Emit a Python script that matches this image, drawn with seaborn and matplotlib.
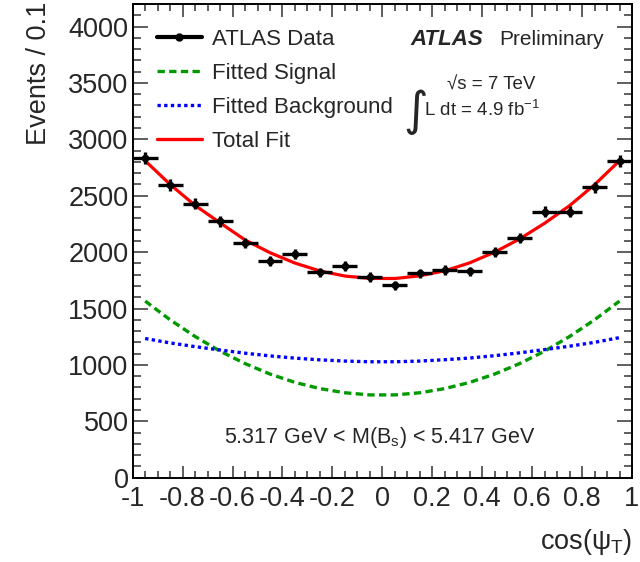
import matplotlib
matplotlib.use("Agg")
import matplotlib.pyplot as plt
from matplotlib.lines import Line2D
from matplotlib.ticker import MultipleLocator
import numpy as np
import pandas as pd
import seaborn as sns

# centros dos bins de cos(psi_T) (20 bins de largura 0.1)
cos_psi = [-0.95, -0.85, -0.75, -0.65, -0.55, -0.45, -0.35, -0.25, -0.15, -0.05,
           0.05, 0.15, 0.25, 0.35, 0.45, 0.55, 0.65, 0.75, 0.85, 0.95]
# eventos por bin (ATLAS Data)
events = [2835, 2596, 2428, 2274, 2083, 1918, 1986, 1820, 1880, 1779,
          1705, 1811, 1844, 1829, 2000, 2127, 2360, 2360, 2575, 2805]
signal = [1566, 1400, 1252, 1122, 1012, 919, 845, 790, 753, 734,
          734, 753, 790, 845, 919, 1012, 1122, 1252, 1400, 1566]
background = [1234, 1195, 1162, 1132, 1104, 1080, 1060, 1045, 1034, 1028,
              1028, 1034, 1046, 1061, 1082, 1107, 1136, 1166, 1200, 1242]
total_fit = [2810, 2600, 2414, 2260, 2108, 1995, 1903, 1833, 1788, 1767,
             1766, 1790, 1834, 1905, 2000, 2117, 2256, 2412, 2598, 2810]

xtick_pos = [-1, -0.8, -0.6, -0.4, -0.2, 0, 0.2, 0.4, 0.6, 0.8, 1]
xtick_labels = ['-1', '-0.8', '-0.6', '-0.4', '-0.2', '0', '0.2', '0.4', '0.6', '0.8', '1']
ytick_pos = [0, 500, 1000, 1500, 2000, 2500, 3000, 3500, 4000]
ytick_labels = ['0', '500', '1000', '1500', '2000', '2500', '3000', '3500', '4000']

df = pd.DataFrame({'x': cos_psi, 'events': events, 'signal': signal,
                   'background': background, 'total': total_fit})

sns.set_style('ticks')
plt.rcParams['font.family'] = ['Liberation Sans', 'DejaVu Sans']
plt.rcParams['axes.unicode_minus'] = False
plt.rcParams['mathtext.fontset'] = 'custom'
plt.rcParams['mathtext.rm'] = 'Liberation Sans'
plt.rcParams['mathtext.it'] = 'Liberation Sans'
plt.rcParams['mathtext.bf'] = 'Liberation Sans:bold'

fig = plt.figure(figsize=(6.4, 5.62), dpi=100)
ax = fig.add_axes([0.2073, 0.15, 0.7802, 0.8429])

GREEN = '#009a00'
BLUE = '#0000ff'
RED = '#ff0000'

# curvas do ajuste
sns.lineplot(data=df, x='x', y='signal', ax=ax, color=GREEN, lw=2.4,
             dashes=False, zorder=2)
ax.lines[-1].set_dashes([2.2, 1.3])
sns.lineplot(data=df, x='x', y='background', ax=ax, color=BLUE, lw=2.4,
             dashes=False, zorder=2)
ax.lines[-1].set_dashes([1.0, 1.0])
ax.lines[-1].set_dash_capstyle('butt')
sns.lineplot(data=df, x='x', y='total', ax=ax, color=RED, lw=2.3, zorder=3)

# dados com barras de erro
ax.errorbar(df['x'], df['events'], xerr=0.05, yerr=np.sqrt(df['events']),
            fmt='none', ecolor='black', elinewidth=2.4, capsize=0, zorder=4)
sns.scatterplot(data=df, x='x', y='events', ax=ax, color='black', s=30,
                edgecolor='black', linewidth=0, zorder=5)

ax.set_xlim(-1, 1)
ax.set_ylim(0, 4200)
ax.set_xticks(xtick_pos)
ax.set_xticklabels(xtick_labels)
ax.set_yticks(ytick_pos)
ax.set_yticklabels(ytick_labels)
ax.xaxis.set_minor_locator(MultipleLocator(0.05))
ax.yaxis.set_minor_locator(MultipleLocator(100))
ax.tick_params(axis='both', which='both', direction='in', top=True, right=True,
               labelsize=19.5, color='#333333')
ax.tick_params(axis='y', which='major', length=11, width=1.1, pad=3)
ax.tick_params(axis='y', which='minor', length=6, width=1.1)
ax.tick_params(axis='x', which='major', length=9, width=1.1, pad=6)
ax.tick_params(axis='x', which='minor', length=5, width=1.1)
for s in ax.spines.values():
    s.set_linewidth(1.4)
    s.set_color('black')

ax.set_ylabel('Events / 0.1', fontsize=19.5, loc='top')
ax.yaxis.set_label_coords(-0.162, 1.006)
ax.set_xlabel(r'cos($\psi_{\mathrm{T}}$)', fontsize=19.5, loc='right')
ax.xaxis.set_label_coords(1.0, -0.105)

handles = [
    Line2D([], [], color='black', lw=3, marker='o', ms=5),
    Line2D([], [], color=GREEN, lw=2.4, dashes=[2.2, 1.3]),
    Line2D([], [], color=BLUE, lw=2.4, dashes=[1.0, 1.0], dash_capstyle='butt'),
    Line2D([], [], color=RED, lw=2.4),
]
labels = ['ATLAS Data', 'Fitted Signal', 'Fitted Background', 'Total Fit']
ax.legend(handles, labels, loc='upper left', bbox_to_anchor=(0.049, 0.947),
          frameon=False, fontsize=16, handlelength=2.0, handletextpad=0.45,
          labelspacing=0.58, borderpad=0, borderaxespad=0, numpoints=1)

ax.text(0.557, 0.924, 'ATLAS', transform=ax.transAxes, fontsize=16,
        fontweight='bold', fontstyle='italic', ha='left', va='center')
ax.text(0.734, 0.924, 'Preliminary', transform=ax.transAxes, fontsize=15,
        ha='left', va='center')
ax.text(0.630, 0.829, '√s = 7 TeV', transform=ax.transAxes, fontsize=13.5,
        ha='left', va='center')
ax.text(0.566, 0.772, '∫', transform=ax.transAxes, fontsize=34,
        ha='center', va='center', family=['DejaVu Sans'])
ax.text(0.584, 0.776, r'L dt = 4.9 fb$^{-1}$', transform=ax.transAxes,
        fontsize=13.5, ha='left', va='center')
ax.text(0.494, 0.084, r'5.317 GeV < M(B$_{\mathrm{s}}$) < 5.417 GeV',
        transform=ax.transAxes, fontsize=15.5, ha='center', va='center')

fig.savefig('out.png', dpi=100)
